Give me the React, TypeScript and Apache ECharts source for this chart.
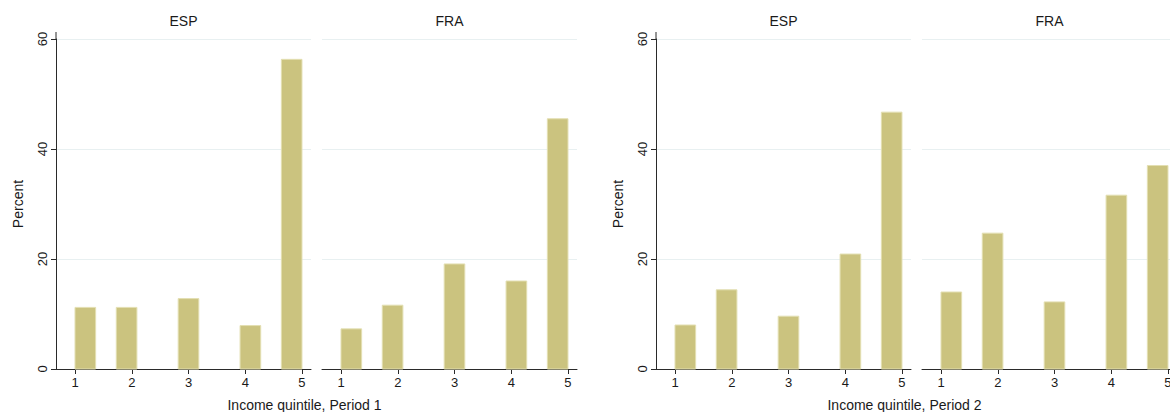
import React, { useEffect, useRef } from "react";
import * as echarts from "echarts";

const quintiles = [1, 2, 3, 4, 5];
const period1ESP = [11.2, 11.2, 12.8, 7.9, 56.3];
const period1FRA = [7.3, 11.6, 19.1, 16.0, 45.5];
const period2ESP = [8.0, 14.4, 9.6, 20.9, 46.7];
const period2FRA = [14.0, 24.7, 12.2, 31.6, 37.0];
const panelTitles = ["ESP", "FRA", "ESP", "FRA"];
const xTitles = ["Income quintile, Period 1", "Income quintile, Period 2"];
const yTicks = [0, 20, 40, 60];
const yTitle = "Percent";

const BIN_COUNT = 11;
const X_LO = 1;
const X_HI = 5;

const FONT = "'Liberation Sans', Arial, Helvetica, sans-serif";
const TEXT = "#1a1a1a";
const AXIS = "#2a2a2a";
const GRID = "#e8f0f1";
const BAR = "#cbc37f";
const BAR_EDGE = "#e3dfb2";

export default function App() {
  const ref = useRef<HTMLDivElement>(null);

  useEffect(() => {
    if (!ref.current) return;
    const chart = echarts.init(ref.current, undefined, { renderer: "svg" });

    const lefts = [56, 322, 656, 922];
    const width = 255;
    const top = 39;
    const height = 330;
    const seriesData = [period1ESP, period1FRA, period2ESP, period2FRA];

    const grids = lefts.map((l) => ({ left: l, top, width, height, containLabel: false }));

    const xAxes = lefts.map((_, i) => ({
      type: "value",
      gridIndex: i,
      min: 0.665,
      max: 5.159,
      splitLine: { show: false },
      axisLine: { show: true, onZero: false, lineStyle: { color: AXIS, width: 1 } },
      axisTick: { show: true, length: 5, customValues: quintiles, lineStyle: { color: AXIS } },
      axisLabel: {
        show: true,
        customValues: quintiles,
        color: TEXT,
        fontFamily: FONT,
        fontSize: 13,
        margin: 7,
      },
    }));

    const yAxes = lefts.map((_, i) => {
      const main = i % 2 === 0;
      return {
        type: "value",
        gridIndex: i,
        min: yTicks[0],
        max: yTicks[yTicks.length - 1],
        interval: yTicks[1] - yTicks[0],
        name: main ? yTitle : "",
        nameLocation: "middle",
        nameRotate: 90,
        nameGap: 31,
        nameTextStyle: { color: TEXT, fontFamily: FONT, fontSize: 14 },
        axisLine: { show: main, lineStyle: { color: AXIS, width: 1 } },
        axisTick: { show: main, length: 5, lineStyle: { color: AXIS } },
        axisLabel: {
          show: main,
          rotate: 90,
          color: TEXT,
          fontFamily: FONT,
          fontSize: 13,
          margin: 7,
        },
        splitLine: { show: true, lineStyle: { color: GRID, width: 1 } },
      };
    });

    const binW = (X_HI - X_LO) / BIN_COUNT;

    const series = seriesData.map((vals, i) => ({
      type: "custom",
      xAxisIndex: i,
      yAxisIndex: i,
      data: quintiles.map((q, j) => [q, vals[j]]),
      renderItem: (params: any, api: any) => {
        const q = api.value(0);
        const v = api.value(1);
        const idx = Math.min(BIN_COUNT - 1, Math.floor((q - X_LO) / binW + 1e-9));
        const x0 = X_LO + idx * binW;
        const x1 = x0 + binW;
        const p0 = api.coord([x0, 0]);
        const p1 = api.coord([x1, v]);
        return {
          type: "rect",
          shape: { x: p0[0], y: p1[1], width: p1[0] - p0[0], height: p0[1] - p1[1] },
          style: { fill: BAR, stroke: BAR_EDGE, lineWidth: 1 },
        };
      },
    }));

    const graphics: any[] = [];
    lefts.forEach((l, i) => {
      graphics.push({
        type: "text",
        x: l + width / 2,
        y: 21,
        style: {
          text: panelTitles[i],
          fill: TEXT,
          font: `14px ${FONT}`,
          textAlign: "center",
          textVerticalAlign: "middle",
        },
      });
      if (i % 2 === 0) {
        graphics.push({
          type: "line",
          shape: { x1: l, y1: 32, x2: l, y2: top },
          style: { stroke: AXIS, lineWidth: 1 },
        });
      }
    });
    xTitles.forEach((t, k) => {
      graphics.push({
        type: "text",
        x: 304.5 + k * 600,
        y: 405,
        style: {
          text: t,
          fill: TEXT,
          font: `14px ${FONT}`,
          textAlign: "center",
          textVerticalAlign: "middle",
        },
      });
    });

    chart.setOption({
      animation: false,
      backgroundColor: "#ffffff",
      grid: grids,
      xAxis: xAxes,
      yAxis: yAxes,
      series,
      graphic: graphics,
    } as any);

    return () => chart.dispose();
  }, []);

  return (
    <div
      style={{
        position: "fixed",
        left: 0,
        top: 0,
        width: 1170,
        height: 412,
        overflow: "hidden",
        background: "#fff",
      }}
    >
      <div ref={ref} style={{ width: 1200, height: 412 }} />
    </div>
  );
}
